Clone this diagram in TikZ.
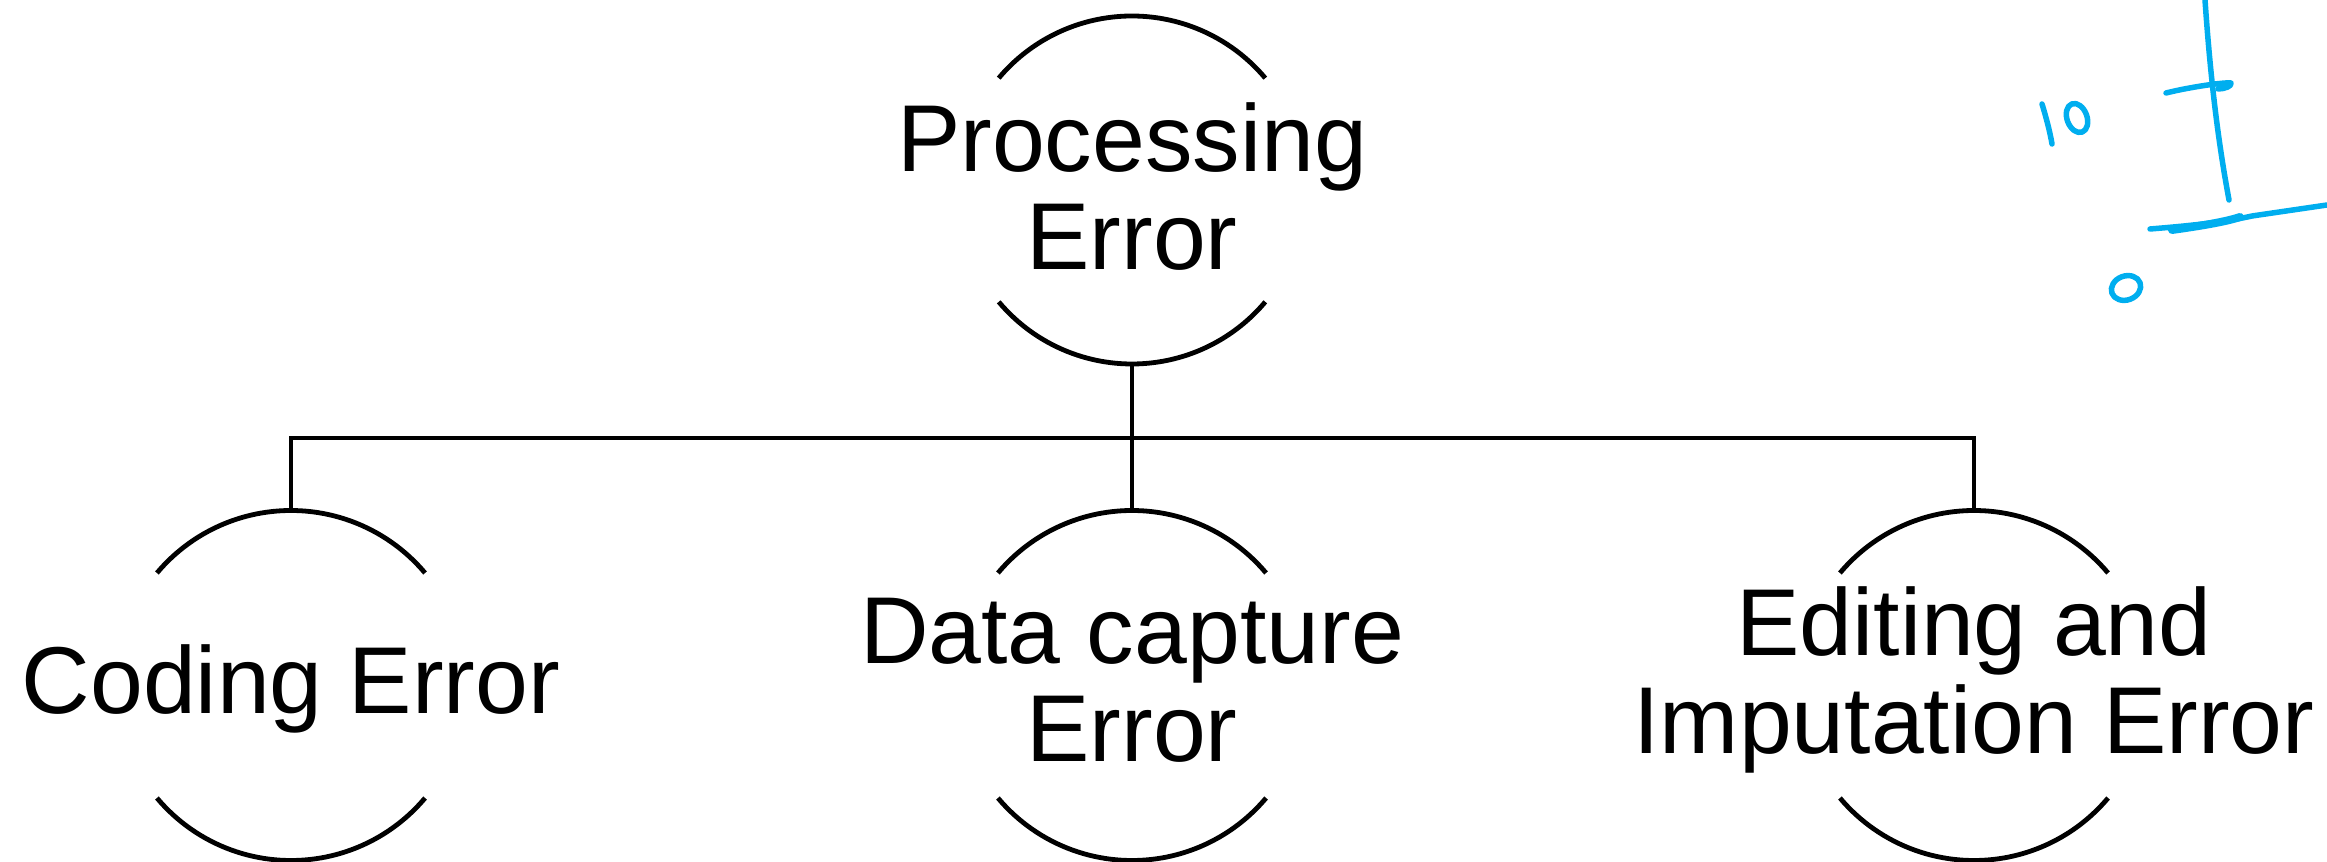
\documentclass[tikz,border=0pt]{standalone}
\usepackage{fontspec}
\setmainfont{Liberation Sans}
\begin{document}
\begin{tikzpicture}[x=1pt,y=1pt,
  ring/.style={circle,draw=none,inner sep=0pt,outer sep=0pt,minimum size=#1},
  arcline/.style={line width=4.8pt,black},
  conn/.style={line width=4.8pt,black},
  lbl/.style={align=center,inner sep=0pt,font=\fontsize{95}{98}\selectfont},
  ink/.style={draw={rgb,255:red,0;green,174;blue,239},line width=5.5pt,line cap=round,line join=round}
]
\useasboundingbox (0,0) rectangle (2327,862);
% circles (invisible nodes used for arcs and anchors)
\node[ring=348] (p) at (1132,672) {};
\node[ring=350] (c1) at (291,176.5) {};
\node[ring=350] (c2) at (1132,176.5) {};
\node[ring=350] (c3) at (1974,176.5) {};
\foreach \n/\r in {p/174,c1/175,c2/175,c3/175}{
  \draw[arcline] (\n.40) arc[start angle=40,end angle=140,radius=\r];
  \draw[arcline] (\n.220) arc[start angle=220,end angle=320,radius=\r];
}
% labels
\node[lbl] (tp) at (1132,675) {Processing\\Error};
\node[lbl] (t1) at (291,173) {Coding Error};
\node[lbl] (t2) at (1132,182) {Data capture\\Error};
\node[lbl] (t3) at (1974,182) {Editing and\\Imputation Error};
% connectors
\coordinate (j) at (1132,424);
\draw[conn] (p.south) -- (j);
\draw[conn] (c1.north) |- (j) -| (c3.north);
\draw[conn] (j) -- (c2.north);
% handwritten blue marks
\draw[ink] (2205,862) .. controls (2212,760) and (2222,700) .. (2229,662);
\draw[ink] (2166,769) .. controls (2190,775) and (2225,780) .. (2231,779) .. controls (2232,776) and (2225,773) .. (2218,773);
\draw[ink] (2150,633) .. controls (2200,637) and (2230,641) .. (2252,646) -- (2327,657);
\draw[ink,line width=8pt] (2172,632) .. controls (2200,636) and (2225,640) .. (2240,645);
\draw[ink] (2042,758) .. controls (2046,745) and (2050,730) .. (2052,718);
\draw[ink,rotate around={-70:(2077,744)}] (2077,744) ellipse (15 and 10);
\draw[ink,rotate around={20:(2126,574)}] (2126,574) ellipse (15 and 12);
\end{tikzpicture}
\end{document}
